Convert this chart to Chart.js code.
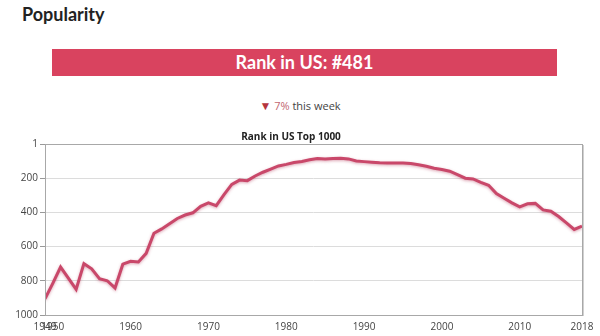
<!DOCTYPE html>
<html>
<head>
<meta charset="utf-8">
<script src="https://cdn.jsdelivr.net/npm/chart.js@4/dist/chart.umd.min.js"></script>
<style>
  html, body { margin: 0; padding: 0; background: #fff; width: 600px; height: 336px; overflow: hidden; }
  #heading { position: absolute; left: 22px; top: 3px; font: bold 18px Lato, "Open Sans", sans-serif; color: #222; }
  #banner { position: absolute; left: 52px; top: 49px; width: 505px; height: 27px; background: #d9435f;
            color: #fff; font: bold 18px Lato, "Open Sans", sans-serif; text-align: center; line-height: 27px; }
  #change { position: absolute; left: 0; width: 600px; top: 97px; text-align: center; font: 11px "Open Sans", sans-serif; color: #444; }
  #change .down { color: #b5343d; font-size: 12px; }
  #change .pct { color: #c2666f; }
  #wrap { position: absolute; left: 0; top: 125px; width: 600px; height: 211px; }
</style>
</head>
<body>
<div id="heading">Popularity</div>
<div id="banner">Rank in US: #481</div>
<div id="change"><span class="down">▼</span> <span class="pct">7%</span> this week</div>
<div id="wrap"><canvas id="c" width="600" height="211"></canvas></div>
<script>
const years = [];
for (let y = 1949; y <= 2018; y++) years.push(y);
const ranks = [
  905, 815, 720, 785, 850, 700, 730, 788, 800, 842,
  703, 686, 690, 640, 522, 497, 467, 436, 416, 403,
  365, 345, 361, 297, 237, 212, 215, 188, 166, 148,
  129, 120, 109, 103, 93, 86, 88, 85, 84, 88,
  100, 104, 108, 111, 112, 112, 112, 115, 122, 131,
  143, 150, 160, 180, 201, 205, 225, 242, 290, 318,
  345, 368, 350, 348, 386, 394, 425, 462, 500, 481
];
const xTicks = [1949, 1950, 1960, 1970, 1980, 1990, 2000, 2010, 2018];
const yTicks = [1, 200, 400, 600, 800, 1000];
const chartTitle = 'Rank in US Top 1000';

const frame = {
  id: 'frame',
  afterDraw(chart) {
    const a = chart.chartArea, ctx = chart.ctx;
    ctx.save();
    ctx.strokeStyle = '#a8a8a8';
    ctx.lineWidth = 1;
    ctx.strokeRect(Math.round(a.left) + 0.5, Math.round(a.top) + 0.5,
                   Math.round(a.right - a.left), Math.round(a.bottom - a.top));
    ctx.strokeStyle = 'rgba(120,120,120,0.35)';
    ctx.beginPath();
    ctx.moveTo(Math.round(a.right) + 1.5, Math.round(a.top) + 1);
    ctx.lineTo(Math.round(a.right) + 1.5, Math.round(a.bottom) + 1);
    ctx.stroke();
    ctx.restore();
  }
};
const shadow = {
  id: 'shadow',
  beforeDatasetDraw(chart) {
    const ctx = chart.ctx;
    ctx.save();
    ctx.shadowColor = 'rgba(180,60,90,0.45)';
    ctx.shadowBlur = 3;
    ctx.shadowOffsetX = 0;
    ctx.shadowOffsetY = 1;
  },
  afterDatasetDraw(chart) { chart.ctx.restore(); }
};

new Chart(document.getElementById('c'), {
  type: 'line',
  data: {
    datasets: [{
      data: years.map((y, i) => ({ x: y, y: ranks[i] })),
      borderColor: '#c9486a',
      borderWidth: 3,
      pointRadius: 0,
      tension: 0,
      fill: false
    }]
  },
  options: {
    responsive: false,
    animation: false,
    layout: { padding: { left: 0, right: 18, top: 0, bottom: 0 } },
    plugins: {
      legend: { display: false },
      tooltip: { enabled: false },
      title: {
        display: true,
        text: chartTitle,
        color: '#222',
        font: { family: '"Open Sans", sans-serif', size: 10, weight: 'bold', lineHeight: 1.2 },
        padding: { top: 6, bottom: 1 }
      }
    },
    scales: {
      x: {
        type: 'linear',
        min: 1949,
        max: 2018,
        afterBuildTicks: (s) => { s.ticks = xTicks.map(v => ({ value: v })); },
        afterFit: (s) => { s.height = 21; },
        grid: { display: false },
        border: { display: false },
        ticks: {
          autoSkip: false, maxRotation: 0, padding: -2,
          color: '#444',
          font: { family: '"Open Sans", sans-serif', size: 10 },
          callback: (v) => String(v)
        }
      },
      y: {
        reverse: true,
        min: 1,
        max: 1000,
        afterBuildTicks: (s) => { s.ticks = yTicks.map(v => ({ value: v })); },
        afterFit: (s) => { s.width = 45; },
        grid: { color: '#dcdcdc', tickColor: '#999', tickLength: 5, lineWidth: 1 },
        border: { display: false },
        ticks: {
          padding: 2,
          color: '#444',
          font: { family: '"Open Sans", sans-serif', size: 10 },
          callback: (v) => String(v)
        }
      }
    }
  },
  plugins: [shadow, frame]
});
</script>
</body>
</html>
